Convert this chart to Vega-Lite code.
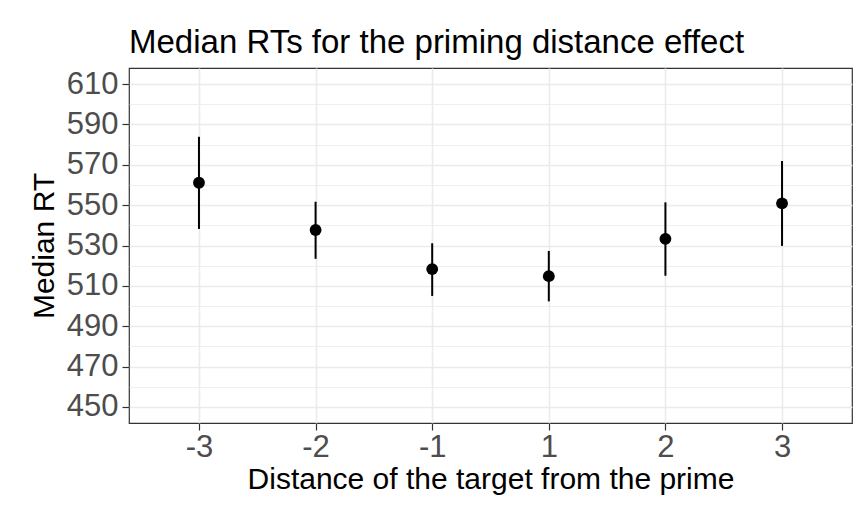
{
  "$schema": "https://vega.github.io/schema/vega-lite/v6.json",
  "width": 723,
  "height": 355,
  "autosize": "none",
  "padding": {"left": 129, "top": 68, "right": 11, "bottom": 83},
  "background": "white",
  "title": {
    "text": "Median RTs for the priming distance effect",
    "anchor": "start",
    "frame": "group",
    "font": "Liberation Sans",
    "fontSize": 33,
    "fontWeight": "normal",
    "color": "black",
    "baseline": "alphabetic",
    "offset": -18
  },
  "config": {
    "view": {"stroke": "#333333", "strokeWidth": 1.2},
    "axis": {
      "labelFont": "Liberation Sans",
      "titleFont": "Liberation Sans",
      "labelFontSize": 31,
      "labelColor": "#4D4D4D",
      "titleFontSize": 30,
      "titleFontWeight": "normal",
      "titleColor": "black",
      "tickColor": "#333333",
      "tickSize": 7,
      "tickWidth": 1.2,
      "domain": false,
      "gridColor": "#EBEBEB",
      "gridWidth": 1.6
    }
  },
  "data": {
    "values": [
      {"d": "-3", "m": 561.1, "lo": 538.2, "hi": 583.9},
      {"d": "-2", "m": 537.7, "lo": 523.4, "hi": 551.7},
      {"d": "-1", "m": 518.3, "lo": 505.0, "hi": 531.1},
      {"d": "1", "m": 514.8, "lo": 502.3, "hi": 527.3},
      {"d": "2", "m": 533.3, "lo": 515.0, "hi": 551.4},
      {"d": "3", "m": 550.9, "lo": 529.8, "hi": 571.9}
    ]
  },
  "layer": [
    {
      "mark": {"type": "point", "opacity": 0},
      "encoding": {
        "x": {"field": "d", "type": "ordinal", "sort": ["-3", "-2", "-1", "1", "2", "3"], "scale": {"type": "point", "padding": 0.6}, "axis": {"title": "Distance of the target from the prime", "labelAngle": 0, "grid": true, "labelPadding": 2, "titlePadding": 2}},
        "y": {
          "field": "m",
          "type": "quantitative",
          "scale": {"domain": [442, 618], "nice": false, "zero": false},
          "axis": {"orient": "left", "values": [460, 480, 500, 520, 540, 560, 580, 600], "grid": true, "gridWidth": 0.8, "labels": false, "ticks": false, "title": null}
        }
      }
    },
    {
      "mark": {"type": "rule", "color": "black", "strokeWidth": 2},
      "encoding": {
        "x": {"field": "d", "type": "ordinal", "sort": ["-3", "-2", "-1", "1", "2", "3"]},
        "y": {
          "field": "lo",
          "type": "quantitative",
          "axis": {"orient": "left", "values": [450, 470, 490, 510, 530, 550, 570, 590, 610], "grid": true, "title": "Median RT", "labelPadding": 4, "titlePadding": 7}
        },
        "y2": {"field": "hi"}
      }
    },
    {
      "mark": {"type": "point", "filled": true, "color": "black", "opacity": 1, "size": 140},
      "encoding": {
        "x": {"field": "d", "type": "ordinal", "sort": ["-3", "-2", "-1", "1", "2", "3"]},
        "y": {"field": "m", "type": "quantitative", "axis": null}
      }
    }
  ],
  "resolve": {"axis": {"y": "independent"}}
}
